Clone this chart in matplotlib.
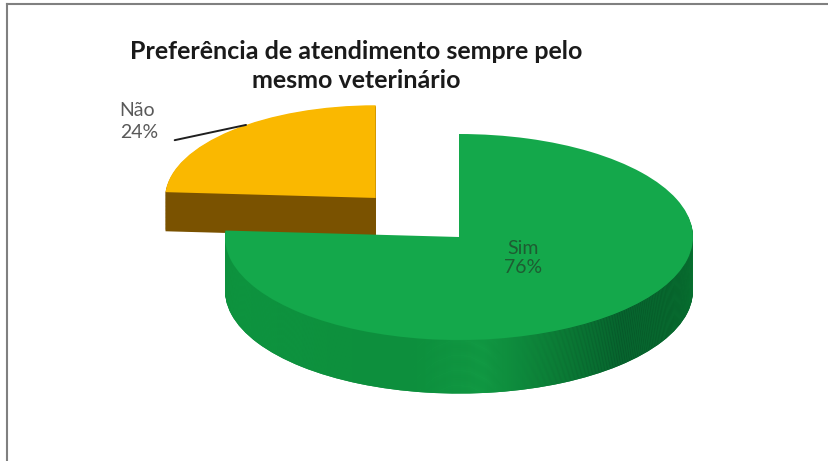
import numpy as np
import matplotlib.pyplot as plt
from matplotlib.colors import LinearSegmentedColormap
from matplotlib.lines import Line2D

# dados do grafico
categorias = ["Não", "Sim"]
percentuais = [24, 76]
titulo = "Preferência de atendimento sempre pelo\nmesmo veterinário"

# cores (topo e lateral de cada fatia)
cor_topo = ["#fab800", "#14a84b"]
cor_lado = ["#7a5200", "#0d8f3d"]

FONTE = ["Lato", "DejaVu Sans"]

fig = plt.figure(figsize=(8.29, 4.61), dpi=100)
ax = fig.add_axes([0, 0, 1, 1])

N = 50                 # camadas usadas para a espessura 3D
prof = [0.38, 0.52]    # espessura de cada fatia
raio = [0.90, 1.0]
explode_nao = 0.52


def fatia(i, centro, cores, zorder):
    cols = ["none"] * len(percentuais)
    cols[i] = cores[i]
    w, _ = ax.pie(percentuais, colors=cols, startangle=90, counterclock=True,
                  explode=[explode_nao, 0], center=centro, radius=raio[i],
                  wedgeprops=dict(linewidth=0, zorder=zorder))
    return w[i]


# --- fatia "Não" (atras) ---
for k in range(N, 0, -1):
    fatia(0, (0, -prof[0] * k / N), cor_lado, 1)
w_nao = fatia(0, (0, 0), cor_topo, 2)

# --- fatia "Sim" (frente), lateral com degrade horizontal ---
grad = np.linspace(0, 1, 256).reshape(1, -1)
cmap_lado = LinearSegmentedColormap.from_list("lado", [
    (0.0, "#0f9641"), (0.38, "#0d8f3d"), (0.55, "#129a44"),
    (0.72, "#0b7634"), (0.85, "#06582a"), (1.0, "#075f2b")])
for k in range(N, 0, -1):
    w = fatia(1, (0, -prof[1] * k / N), cor_lado, 3)
    im = ax.imshow(grad, extent=[-1.0, 1.0, -1.7, 0.2], cmap=cmap_lado,
                   aspect="auto", zorder=3, interpolation="bilinear")
    im.set_clip_path(w)
w_sim = fatia(1, (0, 0), cor_topo, 4)

# rotulo "Sim" dentro da fatia
meio = np.deg2rad((w_sim.theta1 + w_sim.theta2) / 2)
cx, cy = w_sim.center
ax.text(cx + 0.40 * w_sim.r * np.cos(meio), cy + 0.28 * w_sim.r * np.sin(meio),
        f"{categorias[1]}\n{percentuais[1]}%", ha="center", va="center",
        fontsize=14, color="#1e5c32", family=FONTE, linespacing=1.15, zorder=5)

# rotulo "Não" fora, com linha de chamada
ang = np.deg2rad(w_nao.theta1 + 0.44 * (w_nao.theta2 - w_nao.theta1))
nx, ny = w_nao.center
ponto = (nx + w_nao.r * np.cos(ang), ny + w_nao.r * np.sin(ang))
ax.annotate("", xy=ponto, xytext=(-1.215, 0.94),
            arrowprops=dict(arrowstyle="-", color="#1f1f1f", lw=1.4,
                            shrinkA=0, shrinkB=0), zorder=5)
ax.text(-1.45, 1.12, f"{categorias[0]}\n{percentuais[0]}%", ha="left",
        va="center", fontsize=14, color="#595959", family=FONTE,
        linespacing=1.35, zorder=5)

ax.set_aspect("auto")
ax.set_xlim(-459 / 234, 370 / 234)
ax.set_ylim(-224 / 103, 237 / 103)
ax.axis("off")

# titulo
fig.text(356 / 829, 1 - 66 / 461, titulo, ha="center", va="center",
         fontsize=18, fontweight="bold", family=FONTE, linespacing=1.3,
         color="#1a1a1a")

# moldura (apenas borda superior e esquerda visiveis)
fig.add_artist(Line2D([7.5 / 829, 1], [1 - 4.5 / 461, 1 - 4.5 / 461],
                      color="#808080", lw=1.5, transform=fig.transFigure))
fig.add_artist(Line2D([7.5 / 829, 7.5 / 829], [0, 1 - 4.5 / 461],
                      color="#808080", lw=1.5, transform=fig.transFigure))

fig.savefig("out.png", dpi=100, facecolor="white")
